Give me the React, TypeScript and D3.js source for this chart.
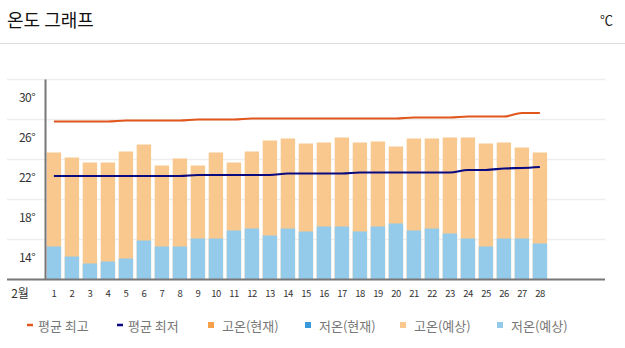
import React from "react";
import * as d3 from "d3";

const days = Array.from({ length: 28 }, (_, i) => i + 1);
const monthLabel = "2월";
const highs = [22.7, 22.2, 21.7, 21.7, 22.8, 23.5, 21.4, 22.1, 21.4, 22.7, 21.7, 22.8, 23.9, 24.1, 23.6, 23.7, 24.2, 23.7, 23.8, 23.3, 24.1, 24.1, 24.2, 24.2, 23.6, 23.7, 23.2, 22.7];
const lows = [13.3, 12.3, 11.6, 11.8, 12.1, 13.9, 13.3, 13.3, 14.1, 14.1, 14.9, 15.1, 14.4, 15.1, 14.8, 15.3, 15.3, 14.8, 15.3, 15.6, 14.9, 15.1, 14.6, 14.1, 13.3, 14.1, 14.1, 13.6];
const avgMax = [25.8, 25.8, 25.8, 25.8, 25.9, 25.9, 25.9, 25.9, 26.0, 26.0, 26.0, 26.1, 26.1, 26.1, 26.1, 26.1, 26.1, 26.1, 26.1, 26.1, 26.2, 26.2, 26.2, 26.3, 26.3, 26.3, 26.65, 26.65];
const avgMin = [20.35, 20.35, 20.35, 20.35, 20.35, 20.35, 20.35, 20.35, 20.45, 20.45, 20.45, 20.45, 20.45, 20.6, 20.6, 20.6, 20.6, 20.7, 20.7, 20.7, 20.7, 20.7, 20.7, 20.95, 20.95, 21.1, 21.15, 21.25];
const yTicks = [14, 18, 22, 26, 30];
const legendItems = [
  { label: "평균 최고", kind: "line", color: "#e0561c" },
  { label: "평균 최저", kind: "line", color: "#0a0a80" },
  { label: "고온(현재)", kind: "rect", color: "#f5a04b" },
  { label: "저온(현재)", kind: "rect", color: "#3a9ad9" },
  { label: "고온(예상)", kind: "rect", color: "#f8c88e" },
  { label: "저온(예상)", kind: "rect", color: "#94cbea" },
];
const legendX = [27, 117, 208, 305, 400, 497];

export default function App() {
  const W = 625, H = 348;
  const x = d3.scaleBand<number>().domain(days).range([46.7, 547.1]).paddingInner(0.2).paddingOuter(0);
  const y = d3.scaleLinear().domain([10, 30]).range([279.5, 79.5]);
  const cx = (d: number) => (x(d) as number) + x.bandwidth() / 2;
  const lineGen = d3.line<number>().x((_, i) => cx(days[i])).y((v) => y(v)).curve(d3.curveMonotoneX);
  const font = "'Noto Sans CJK KR', 'Noto Sans', sans-serif";
  return (
    <svg width={W} height={H} style={{ position: "absolute", left: 0, top: 0, background: "#fff" }} fontFamily={font}>
      <text x={7} y={27} fontSize={18} fill="#111">온도 그래프</text>
      <text x={613} y={25} fontSize={13} fill="#222" textAnchor="end">℃</text>
      <line x1={0} x2={625} y1={43.5} y2={43.5} stroke="#ddd" strokeWidth={1} />
      {yTicks.map((t) => (
        <line key={"g" + t} x1={7} x2={605} y1={y(t)} y2={y(t)} stroke="#eeeeee" strokeWidth={1.5} />
      ))}
      {days.map((d, i) => (
        <g key={"b" + d}>
          <rect x={x(d)} width={x.bandwidth()} y={y(highs[i])} height={y(10) - y(highs[i])} fill="#f8c88e" />
          <rect x={x(d)} width={x.bandwidth()} y={y(lows[i])} height={y(10) - y(lows[i])} fill="#94cbea" />
        </g>
      ))}
      <path d={lineGen(avgMax) || ""} fill="none" stroke="#e0561c" strokeWidth={2.2} />
      <path d={lineGen(avgMin) || ""} fill="none" stroke="#0a0a80" strokeWidth={2.2} />
      <line x1={7} x2={605} y1={y(10)} y2={y(10)} stroke="#777" strokeWidth={2} />
      <line x1={45.5} x2={45.5} y1={y(30)} y2={y(10)} stroke="#777" strokeWidth={2} />
      {yTicks.map((t) => (
        <text key={"t" + t} x={27} y={y(t) + 16.5} fontSize={12} fill="#333" textAnchor="middle" dominantBaseline="central" letterSpacing={-0.6}>
          {t}°
        </text>
      ))}
      <text x={20} y={292.5} fontSize={12} fill="#333" textAnchor="middle" dominantBaseline="central">{monthLabel}</text>
      {days.map((d) => (
        <text key={"x" + d} x={cx(d)} y={293} fontSize={9.5} fill="#333" textAnchor="middle" dominantBaseline="central" letterSpacing={-0.6}>
          {d}
        </text>
      ))}
      {legendItems.map((it, i) => {
        const lx = legendX[i];
        return (
          <g key={"l" + i}>
            {it.kind === "line" ? (
              <line x1={lx} x2={lx + 6} y1={325} y2={325} stroke={it.color} strokeWidth={2.5} />
            ) : (
              <rect x={lx} y={322} width={6} height={6} fill={it.color} />
            )}
            <text x={lx + (it.kind === "line" ? 11 : 14)} y={325} fontSize={13} fill="#777" dominantBaseline="central">{it.label}</text>
          </g>
        );
      })}
    </svg>
  );
}
